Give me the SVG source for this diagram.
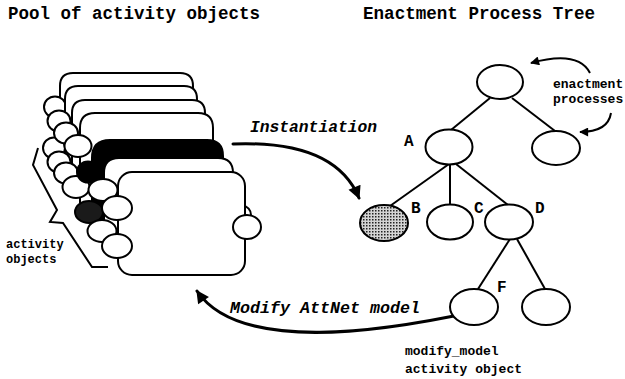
<svg xmlns="http://www.w3.org/2000/svg" width="625" height="379" viewBox="0 0 625 379">
<style>
.card{fill:#fff;stroke:#000;stroke-width:2;stroke-linejoin:round}
.blk{fill:#000;stroke:#000;stroke-width:2}
.ov{fill:#fff;stroke:#000;stroke-width:2}
.tn{fill:#fff;stroke:#000;stroke-width:2}
.edge{stroke:#000;stroke-width:2;fill:none}
.arr{stroke:#000;stroke-width:3;fill:none;stroke-linecap:round}
.thin{stroke:#000;stroke-width:2;fill:none}
.title{font-family:"Liberation Mono",monospace;font-weight:bold;font-size:18px;fill:#000}
.lab{font-family:"Liberation Mono",monospace;font-weight:bold;font-size:16px;fill:#000}
.it{font-family:"Liberation Mono",monospace;font-weight:bold;font-style:italic;font-size:16px;fill:#000}
.sm{font-family:"Liberation Mono",monospace;font-weight:bold;font-size:13px;fill:#000}
.smb{font-family:"Liberation Mono",monospace;font-weight:bold;font-size:12px;fill:#000}
</style>
<defs>
<pattern id="dots" width="3" height="3" patternUnits="userSpaceOnUse"><rect width="3" height="3" fill="#d4d4d4"/><rect width="1.5" height="1.5" fill="#222"/></pattern>
<marker id="ah" viewBox="0 0 10 10" refX="9" refY="5" markerWidth="15" markerHeight="13" markerUnits="userSpaceOnUse" orient="auto"><path d="M0,0 L10,5 L0,10 z" fill="#000"/></marker>
<marker id="ahs" viewBox="0 0 10 10" refX="9" refY="5" markerWidth="10" markerHeight="9" markerUnits="userSpaceOnUse" orient="auto"><path d="M0,0 L10,5 L0,10 z" fill="#000"/></marker>
</defs>

<text class="title" x="8" y="19" textLength="252" lengthAdjust="spacingAndGlyphs">Pool of activity objects</text>
<text class="title" x="363" y="19" textLength="232" lengthAdjust="spacingAndGlyphs">Enactment Process Tree</text>

<g id="card0"><path class="card" d="M60 163 V86 Q60 73 73 73 H180 Q193 73 193 86 V163"/><ellipse class="ov" cx="55" cy="107" rx="11" ry="10.5"/><ellipse class="ov" cx="54" cy="148" rx="11" ry="10.5"/></g>
<g id="card1"><path class="card" d="M65 176 V99 Q65 86 78 86 H184 Q197 86 197 99 V176"/><ellipse class="ov" cx="59" cy="121" rx="11.5" ry="10.5"/><ellipse class="ov" cx="59" cy="162" rx="11.5" ry="10.5"/></g>
<g id="card2"><path class="card" d="M72 190 V113 Q72 100 85 100 H192 Q205 100 205 113 V190"/><ellipse class="ov" cx="66" cy="133" rx="12" ry="10.5"/><ellipse class="ov" cx="66" cy="173" rx="12" ry="10.5"/></g>
<g id="card3"><path class="card" d="M80 203 V128 Q80 113 95 113 H198 Q213 113 213 128 V203"/><ellipse class="ov" cx="78" cy="146" rx="13.5" ry="11"/><ellipse class="ov" cx="76" cy="187" rx="13.5" ry="11"/></g>
<g id="card4"><path class="blk" d="M92 230 V158 Q92 140 110 140 H207 Q223 140 223 156 V230"/><ellipse class="blk" cx="88" cy="172" rx="11" ry="10.5"/><ellipse cx="89" cy="212" rx="14" ry="11" fill="#1a1a1a" stroke="#000" stroke-width="2"/></g>
<g id="card5"><path class="card" d="M104 248 V173 Q104 158 119 158 H218 Q233 158 233 173 V248"/><ellipse class="ov" cx="103" cy="190" rx="14.5" ry="11"/><ellipse class="ov" cx="102" cy="231" rx="14.5" ry="11"/><ellipse class="ov" cx="243" cy="215" rx="8" ry="9"/></g>
<g id="card6"><rect class="card" x="118" y="172" width="127" height="103" rx="14"/><ellipse class="ov" cx="117" cy="208" rx="15" ry="12"/><ellipse class="ov" cx="117" cy="246" rx="15" ry="12"/><ellipse class="ov" cx="247" cy="227" rx="14" ry="12"/></g>

<g id="bracket"><polyline points="38,148 33,165 57,210 50,222 63,223 92,267 108,267" fill="none" stroke="#000" stroke-width="2"/></g>
<text class="smb" x="6" y="248">activity</text>
<text class="smb" x="6" y="263">objects</text>

<g id="connectors">
<line class="edge" x1="490" y1="98" x2="451" y2="130"/>
<line class="edge" x1="512" y1="98" x2="555" y2="131"/>
<line class="edge" x1="449" y1="164" x2="390" y2="206"/>
<line class="edge" x1="450" y1="164" x2="450" y2="205"/>
<line class="edge" x1="456" y1="164" x2="508" y2="205"/>
<line class="edge" x1="510" y1="239" x2="478" y2="289"/>
<line class="edge" x1="517" y1="239" x2="545" y2="289"/>
<path class="arr" d="M233 144 Q335 140 359 198" marker-end="url(#ah)"/>
<path class="arr" d="M473 312 C390 330 240 355 197 291" marker-end="url(#ah)"/>
<path class="thin" d="M590 73 Q578 50 531 63" marker-end="url(#ahs)"/>
<path class="thin" d="M611 113 Q608 132 580 132" marker-end="url(#ahs)"/>
</g>

<g id="root"><ellipse class="tn" cx="500" cy="82" rx="23" ry="17"/></g>
<g id="nodeA"><ellipse class="tn" cx="449" cy="147" rx="23.5" ry="17.5"/><text class="lab" x="404" y="146">A</text></g>
<g id="nodeR"><ellipse class="tn" cx="556" cy="148" rx="24" ry="17"/></g>
<g id="nodeB"><ellipse cx="384" cy="223" rx="24" ry="18" fill="url(#dots)" stroke="#000" stroke-width="2"/><text class="lab" x="411" y="213">B</text></g>
<g id="nodeC"><ellipse class="tn" cx="450" cy="222" rx="23" ry="17.5"/><text class="lab" x="474" y="213">C</text></g>
<g id="nodeD"><ellipse class="tn" cx="509" cy="222" rx="24" ry="17.5"/><text class="lab" x="535" y="213">D</text></g>
<g id="nodeF"><ellipse class="tn" cx="474" cy="307" rx="24" ry="18"/><text class="lab" x="497" y="292">F</text></g>
<g id="nodeG"><ellipse class="tn" cx="546" cy="307" rx="24" ry="18"/></g>

<text class="it" x="250" y="132" textLength="127" lengthAdjust="spacingAndGlyphs">Instantiation</text>
<text class="it" x="230" y="313" textLength="190" lengthAdjust="spacingAndGlyphs">Modify AttNet model</text>
<text class="sm" x="553" y="88">enactment</text>
<text class="sm" x="553" y="103">processes</text>
<text class="sm" x="405" y="355">modify_model</text>
<text class="sm" x="405" y="373">activity object</text>
</svg>
